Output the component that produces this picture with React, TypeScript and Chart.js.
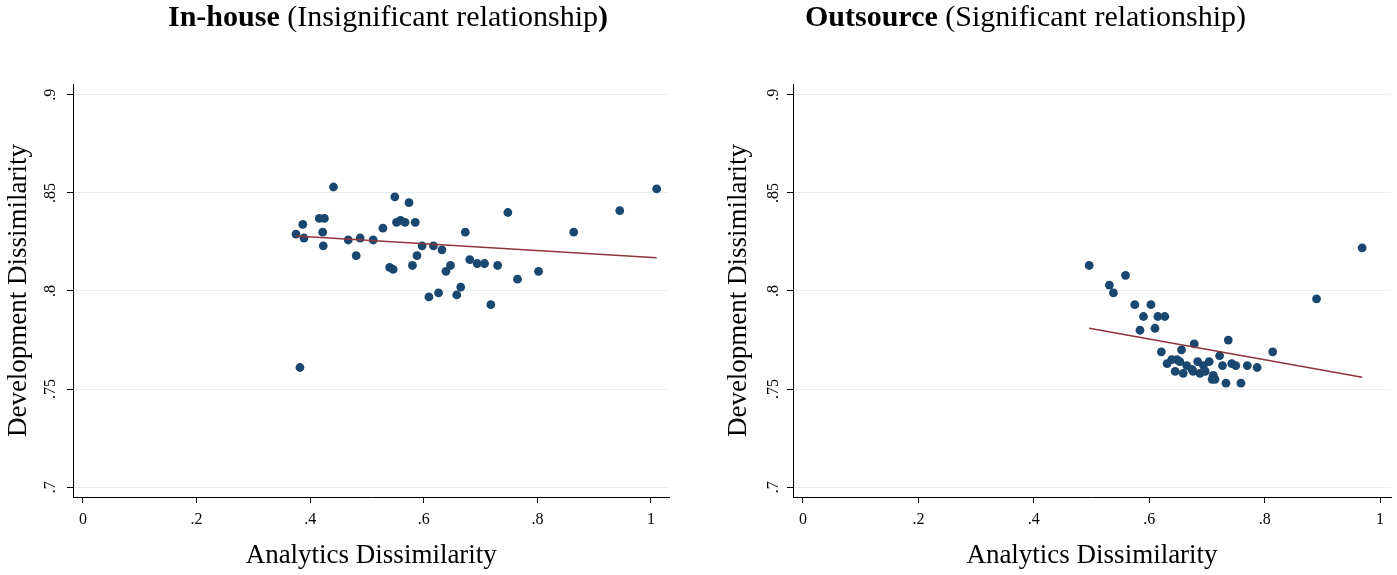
import React, { useEffect, useRef } from 'react';
import { Chart, registerables } from 'chart.js';

Chart.register(...registerables);

const FONT = "'Liberation Serif', 'Times New Roman', serif";

const xTicks = [0, 0.2, 0.4, 0.6, 0.8, 1];
const xTickLabels = ['0', '.2', '.4', '.6', '.8', '1'];
const yTicks = [0.7, 0.75, 0.8, 0.85, 0.9];
const yTickLabels = ['.7', '.75', '.8', '.85', '.9'];

const xAxisTitle = 'Analytics Dissimilarity';
const yAxisTitle = 'Development Dissimilarity';

// In-house panel
const inhouseX = [
  0.375, 0.387, 0.389, 0.382, 0.416, 0.425, 0.422, 0.423, 0.441, 0.467,
  0.481, 0.488, 0.511, 0.528, 0.540, 0.546, 0.549, 0.552, 0.559, 0.567,
  0.574, 0.580, 0.585, 0.588, 0.597, 0.609, 0.617, 0.626, 0.632, 0.639,
  0.647, 0.658, 0.665, 0.673, 0.681, 0.694, 0.707, 0.718, 0.730, 0.748,
  0.765, 0.802, 0.864, 0.945, 1.010,
];
const inhouseY = [
  0.829, 0.834, 0.827, 0.761, 0.837, 0.837, 0.830, 0.823, 0.853, 0.826,
  0.818, 0.827, 0.826, 0.832, 0.812, 0.811, 0.848, 0.835, 0.836, 0.835,
  0.845, 0.813, 0.835, 0.818, 0.823, 0.797, 0.823, 0.799, 0.821, 0.810,
  0.813, 0.798, 0.802, 0.830, 0.816, 0.814, 0.814, 0.793, 0.813, 0.840,
  0.806, 0.810, 0.830, 0.841, 0.852,
];
const inhouseFitX = [0.375, 1.010];
const inhouseFitY = [0.828, 0.817];

// Outsource panel
const outsourceX = [
  0.496, 0.531, 0.538, 0.559, 0.575, 0.603, 0.590, 0.615, 0.627, 0.584,
  0.610, 0.621, 0.656, 0.678, 0.737, 0.814, 0.890, 0.969, 0.722, 0.631,
  0.639, 0.648, 0.645, 0.659, 0.665, 0.674, 0.676, 0.684, 0.688, 0.694,
  0.704, 0.709, 0.714, 0.711, 0.727, 0.733, 0.743, 0.750, 0.759, 0.770,
  0.787, 0.697, 0.653,
];
const outsourceY = [
  0.813, 0.803, 0.799, 0.808, 0.793, 0.793, 0.787, 0.787, 0.787, 0.780,
  0.781, 0.769, 0.770, 0.773, 0.775, 0.769, 0.796, 0.822, 0.767, 0.763,
  0.765, 0.765, 0.759, 0.758, 0.762, 0.760, 0.759, 0.764, 0.758, 0.762,
  0.764, 0.755, 0.755, 0.757, 0.762, 0.753, 0.763, 0.762, 0.753, 0.762,
  0.761, 0.759, 0.764,
];
const outsourceFitX = [0.496, 0.969];
const outsourceFitY = [0.781, 0.756];

const MARKER = '#1a476f';
const FIT = '#90353b';
const GRID = '#e8eff0';

type PanelProps = {
  width: number;
  xs: number[];
  ys: number[];
  fitX: number[];
  fitY: number[];
  xMin: number;
  xMax: number;
  rightPad: number;
  labelOffset: number;
};

function Panel(props: PanelProps) {
  const ref = useRef<HTMLCanvasElement | null>(null);
  useEffect(() => {
    const canvas = ref.current;
    if (!canvas) return;
    const yLabelPlugin = {
      id: 'yRotLabels',
      afterDraw(chart: any) {
        const ctx = chart.ctx;
        const ys = chart.scales.y;
        ctx.save();
        ctx.fillStyle = '#000';
        ctx.font = `16px ${FONT}`;
        ctx.textAlign = 'center';
        ctx.textBaseline = 'middle';
        yTicks.forEach((v, i) => {
          const py = ys.getPixelForValue(v);
          ctx.save();
          ctx.translate(ys.right - props.labelOffset, py);
          ctx.rotate(-Math.PI / 2);
          ctx.fillText(yTickLabels[i], 0, 0);
          ctx.restore();
        });
        ctx.restore();
      },
    };
    const chart = new Chart(canvas, {
      type: 'scatter',
      data: {
        datasets: [
          {
            type: 'line',
            data: props.fitX.map((x, i) => ({ x, y: props.fitY[i] })),
            borderColor: FIT,
            borderWidth: 1.5,
            pointRadius: 0,
            fill: false,
          } as any,
          {
            data: props.xs.map((x, i) => ({ x, y: props.ys[i] })),
            backgroundColor: MARKER,
            borderColor: MARKER,
            borderWidth: 0,
            pointRadius: 4.4,
          },
        ],
      },
      options: {
        animation: false,
        responsive: false,
        devicePixelRatio: 1,
        layout: { padding: { top: 84, right: props.rightPad, left: 0, bottom: 0 } },
        plugins: {
          legend: { display: false },
          tooltip: { enabled: false },
          title: { display: false },
        },
        scales: {
          x: {
            type: 'linear',
            min: props.xMin,
            max: props.xMax,
            afterBuildTicks: (s: any) => {
              s.ticks = xTicks.map((v) => ({ value: v }));
            },
            afterFit: (s: any) => {
              s.height = 78;
            },
            grid: {
              drawOnChartArea: false,
              drawTicks: true,
              tickLength: 6,
              tickColor: '#000',
              tickWidth: 1,
            },
            border: { display: true, color: '#000', width: 1 },
            ticks: {
              callback: (_v: any, i: number) => xTickLabels[i],
              font: { family: FONT, size: 16 },
              color: '#000',
              padding: 7,
              maxRotation: 0,
              autoSkip: false,
            },
            title: {
              display: true,
              text: xAxisTitle,
              font: { family: FONT, size: 27 },
              color: '#000',
              padding: { top: 0, bottom: 3 },
            },
          },
          y: {
            type: 'linear',
            min: 0.695,
            max: 0.9055,
            afterBuildTicks: (s: any) => {
              s.ticks = yTicks.map((v) => ({ value: v }));
            },
            afterFit: (s: any) => {
              s.width = 73;
            },
            grid: {
              color: GRID,
              lineWidth: 1,
              drawTicks: true,
              tickLength: 6,
              tickColor: '#000',
              tickWidth: 1,
            },
            border: { display: true, color: '#000', width: 1 },
            ticks: { display: false },
            title: {
              display: true,
              text: yAxisTitle,
              font: { family: FONT, size: 27 },
              color: '#000',
              padding: { top: 3, bottom: 0 },
            },
          },
        },
      },
      plugins: [yLabelPlugin],
    } as any);
    return () => chart.destroy();
  }, []);
  return <canvas ref={ref} width={props.width} height={575} style={{ display: 'block' }} />;
}

const titleStyle: React.CSSProperties = {
  position: 'absolute',
  top: 1,
  fontFamily: FONT,
  fontSize: 30,
  lineHeight: '30px',
  whiteSpace: 'nowrap',
  color: '#000',
};

export default function App() {
  return (
    <div
      style={{
        position: 'fixed',
        left: 0,
        top: 0,
        width: 1397,
        height: 575,
        background: '#fff',
        overflow: 'hidden',
      }}
    >
      <div style={{ position: 'absolute', left: 0, top: 0 }}>
        <Panel
          width={720}
          xs={inhouseX}
          ys={inhouseY}
          fitX={inhouseFitX}
          fitY={inhouseFitY}
          xMin={-0.0176}
          xMax={1.0326}
          rightPad={50.5}
          labelOffset={22}
        />
      </div>
      <div style={{ position: 'absolute', left: 720, top: 0 }}>
        <Panel
          width={677}
          xs={outsourceX}
          ys={outsourceY}
          fitX={outsourceFitX}
          fitY={outsourceFitY}
          xMin={-0.0173}
          xMax={1.019}
          rightPad={6}
          labelOffset={19}
        />
      </div>
      <div style={{ ...titleStyle, left: 168 }}>
        <b>In-house</b> (Insignificant relationship<b>)</b>
      </div>
      <div style={{ ...titleStyle, left: 805 }}>
        <b>Outsource</b> (Significant relationship)
      </div>
    </div>
  );
}
